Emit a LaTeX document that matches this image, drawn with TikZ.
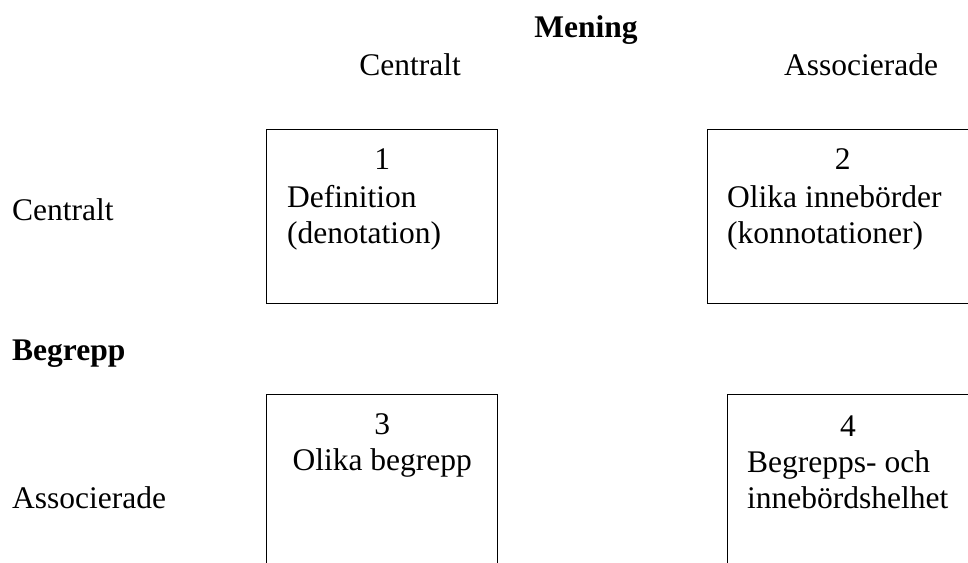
\documentclass[tikz,border=0pt]{standalone}
\usepackage{fontspec}
\setmainfont{Liberation Serif}
\usetikzlibrary{positioning}

\begin{document}
\begin{tikzpicture}[x=1pt,y=-1pt,
  cell/.style={draw=black, line width=1.4pt, inner sep=0pt, anchor=north west},
  txt/.style={inner sep=0pt, font=\fontsize{31.5}{36}\selectfont},
  hd/.style={txt, font=\fontsize{31.5}{36}\selectfont\bfseries}]
\useasboundingbox (0,0) rectangle (968,562);
% column headings
\node[hd, anchor=base] (mening) at (586,37) {Mening};
\node[txt, anchor=base] (colA) at (410,75) {Centralt};
\node[txt, anchor=base] (colB) at (861,75) {Associerade};
% row headings
\node[txt, anchor=base west] (rowA) at (12,220) {Centralt};
\node[hd, anchor=base west] (begrepp) at (12,360) {Begrepp};
\node[txt, anchor=base west] (rowB) at (12,508) {Associerade};
% the four cells
\node[cell, minimum width=231pt, minimum height=174pt] (box1) at (266,129) {};
\node[cell, minimum width=270pt, minimum height=174pt] (box2) at (707,129) {};
\node[cell, minimum width=231pt, minimum height=220pt] (box3) at (266,394) {};
\node[cell, minimum width=273pt, minimum height=220pt] (box4) at (727,394) {};
% cell 1
\node[txt, anchor=base] (num1) at ([yshift=-40pt]box1.north) {1};
\node[txt, anchor=base west] (def) at ([xshift=21pt,yshift=-78pt]box1.north west) {Definition};
\node[txt, anchor=base west] (deno) at ([yshift=-36pt]def.base west) {(denotation)};
% cell 2
\node[txt, anchor=base] (num2) at ([yshift=-40pt]box2.north) {2};
\node[txt, anchor=base west] (inneb) at ([xshift=20pt,yshift=-78pt]box2.north west) {Olika innebörder};
\node[txt, anchor=base west] (konno) at ([yshift=-36pt]inneb.base west) {(konnotationer)};
% cell 3
\node[txt, anchor=base] (num3) at ([yshift=-40pt]box3.north) {3};
\node[txt, anchor=base] (olika) at ([yshift=-36pt]num3.base) {Olika begrepp};
% cell 4
\node[txt, anchor=base] (num4) at ([xshift=121pt,yshift=-42pt]box4.north west) {4};
\node[txt, anchor=base west] (helA) at ([xshift=20pt,yshift=-78pt]box4.north west) {Begrepps- och};
\node[txt, anchor=base west] (helB) at ([yshift=-36pt]helA.base west) {innebördshelhet};
\end{tikzpicture}
\end{document}
